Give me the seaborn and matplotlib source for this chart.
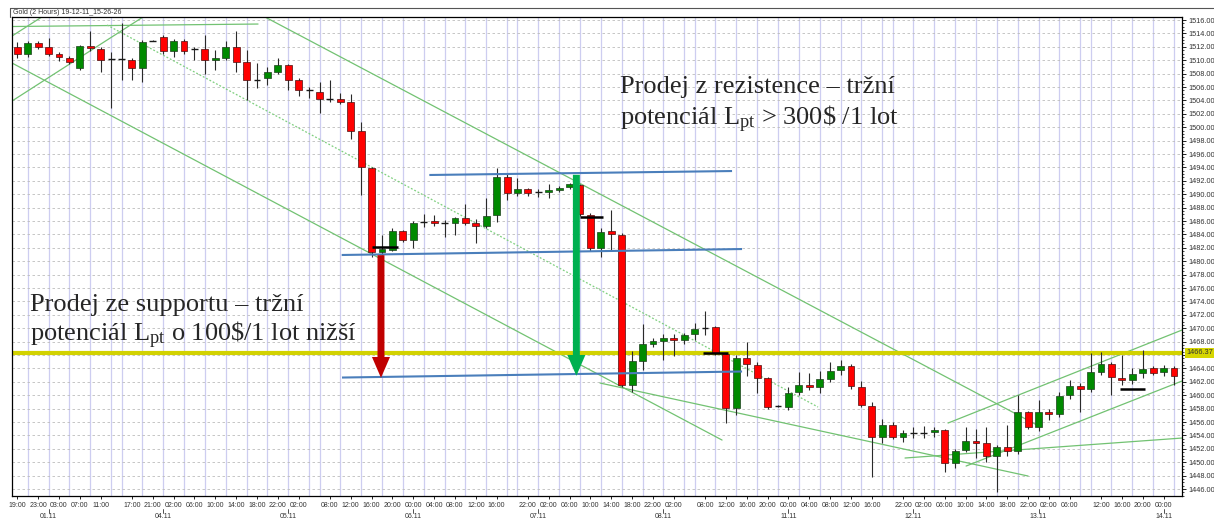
import numpy as np
import pandas as pd
import matplotlib
matplotlib.use("Agg")
import matplotlib.pyplot as plt
import matplotlib.transforms as mtransforms
from matplotlib.lines import Line2D
import seaborn as sns

# ---------------- data (2-hour gold candles) ----------------
opens = [1512.0, 1510.9, 1512.6, 1511.9, 1510.9, 1510.4, 1508.9, 1512.1, 1511.6, 1510.2,
         1510.2, 1510.1, 1508.9, 1512.9, 1513.5, 1511.4, 1512.9, 1511.6, 1511.6, 1510.0,
         1510.4, 1511.9, 1509.8, 1507.1, 1507.3, 1508.3, 1509.3, 1507.0, 1505.5, 1505.2,
         1504.2, 1504.2, 1503.7, 1499.4, 1493.9, 1481.4, 1481.7, 1484.5, 1483.1, 1485.9,
         1486.0, 1485.7, 1485.7, 1486.4, 1485.7, 1485.3, 1486.9, 1492.5, 1490.2, 1490.8,
         1490.3, 1490.3, 1490.6, 1491.1, 1491.4, 1486.9, 1481.9, 1484.5, 1483.9, 1461.5,
         1465.1, 1467.7, 1468.1, 1468.6, 1468.2, 1469.1, 1470.1, 1470.2, 1466.1, 1458.1,
         1465.5, 1464.5, 1462.5, 1458.4, 1458.2, 1460.5, 1461.5, 1461.3, 1462.4, 1463.7,
         1464.3, 1461.3, 1458.4, 1453.7, 1455.6, 1453.8, 1454.3, 1454.4, 1454.5, 1454.8,
         1449.9, 1451.8, 1453.2, 1452.9, 1450.9, 1452.2, 1451.7, 1457.5, 1455.2, 1457.5,
         1457.2, 1460.0, 1461.4, 1460.9, 1463.5, 1464.6, 1462.6, 1462.2, 1463.3, 1464.0,
         1463.4, 1464.1]
highs = [1512.7, 1512.8, 1512.9, 1513.3, 1511.2, 1510.7, 1512.3, 1514.4, 1512.0, 1511.3,
         1515.5, 1510.3, 1513.0, 1513.0, 1513.7, 1513.1, 1513.1, 1512.0, 1513.7, 1511.5,
         1512.8, 1514.4, 1511.5, 1509.6, 1509.0, 1510.3, 1509.5, 1507.3, 1506.0, 1506.8,
         1507.0, 1505.1, 1504.9, 1500.8, 1494.0, 1483.9, 1485.0, 1484.7, 1486.0, 1487.0,
         1486.9, 1486.1, 1486.6, 1488.6, 1486.3, 1489.4, 1493.9, 1493.0, 1492.4, 1491.0,
         1490.8, 1491.6, 1491.2, 1491.7, 1491.6, 1487.2, 1485.0, 1487.7, 1484.2, 1466.6,
         1470.7, 1468.6, 1469.2, 1469.2, 1469.3, 1470.8, 1472.6, 1470.4, 1466.3, 1466.0,
         1468.0, 1465.0, 1462.7, 1458.6, 1461.3, 1463.4, 1463.3, 1463.6, 1464.9, 1465.3,
         1464.6, 1462.1, 1459.0, 1456.5, 1456.0, 1454.8, 1455.2, 1455.4, 1455.2, 1455.0,
         1452.0, 1455.2, 1455.0, 1455.2, 1452.5, 1455.6, 1460.0, 1457.7, 1459.3, 1457.9,
         1460.5, 1462.3, 1461.8, 1466.3, 1466.4, 1465.0, 1466.0, 1464.0, 1466.7, 1464.3,
         1464.5, 1464.3]
lows = [1510.3, 1510.5, 1511.6, 1510.7, 1509.9, 1509.4, 1508.5, 1511.4, 1508.3, 1502.9,
        1507.0, 1507.0, 1506.8, 1512.8, 1510.9, 1510.5, 1511.0, 1510.0, 1508.0, 1508.5,
        1510.0, 1508.3, 1504.1, 1505.9, 1506.3, 1508.0, 1505.6, 1504.6, 1504.3, 1502.1,
        1503.7, 1503.4, 1498.2, 1489.9, 1480.7, 1481.0, 1481.5, 1482.8, 1482.0, 1485.1,
        1485.3, 1483.6, 1483.9, 1485.4, 1482.7, 1485.0, 1485.9, 1489.1, 1489.7, 1489.8,
        1489.6, 1489.5, 1490.4, 1490.8, 1486.7, 1481.6, 1480.7, 1481.7, 1461.3, 1460.5,
        1463.8, 1467.2, 1465.3, 1465.9, 1467.7, 1468.2, 1469.0, 1466.0, 1455.8, 1457.0,
        1462.8, 1460.3, 1458.0, 1458.2, 1457.8, 1460.0, 1460.8, 1460.3, 1461.9, 1463.0,
        1461.0, 1458.3, 1447.8, 1452.9, 1453.4, 1453.0, 1453.6, 1453.6, 1453.8, 1448.6,
        1449.2, 1451.5, 1450.6, 1450.0, 1445.5, 1451.0, 1451.2, 1454.9, 1454.6, 1456.3,
        1456.8, 1459.5, 1457.5, 1460.5, 1463.0, 1460.0, 1461.5, 1461.7, 1462.5, 1463.0,
        1462.9, 1461.5]
closes = [1510.9, 1512.6, 1512.0, 1511.0, 1510.5, 1509.7, 1512.1, 1511.8, 1510.1, 1510.2,
          1510.2, 1508.9, 1512.7, 1512.9, 1511.4, 1512.9, 1511.4, 1511.6, 1510.0, 1510.4,
          1511.9, 1509.8, 1507.0, 1507.1, 1508.3, 1509.3, 1507.0, 1505.6, 1505.5, 1504.2,
          1504.2, 1503.8, 1499.5, 1494.0, 1481.4, 1481.8, 1484.5, 1483.1, 1485.7, 1485.9,
          1485.7, 1485.7, 1486.4, 1485.7, 1485.3, 1486.8, 1492.5, 1490.2, 1490.8, 1490.2,
          1490.3, 1490.6, 1490.9, 1491.5, 1487.0, 1481.9, 1484.4, 1484.1, 1461.5, 1465.1,
          1467.6, 1468.1, 1468.6, 1468.2, 1469.0, 1469.9, 1470.1, 1466.3, 1458.1, 1465.5,
          1464.7, 1462.5, 1458.3, 1458.4, 1460.4, 1461.5, 1461.3, 1462.4, 1463.6, 1464.3,
          1461.4, 1458.5, 1453.7, 1455.6, 1453.7, 1454.4, 1454.3, 1454.4, 1454.8, 1449.9,
          1451.7, 1453.2, 1452.9, 1450.9, 1452.2, 1451.7, 1457.5, 1455.2, 1457.5, 1457.2,
          1459.9, 1461.4, 1460.9, 1463.4, 1464.6, 1462.7, 1462.2, 1463.2, 1463.9, 1463.3,
          1464.1, 1462.9]

time_ticks = [0, 2, 4, 6, 8,
              11, 13, 15, 17, 19, 21, 23, 25, 27,
              30, 32, 34, 36, 38, 40, 42, 44, 46,
              49, 51, 53, 55, 57, 59, 61, 63,
              66, 68, 70, 72, 74, 76, 78, 80, 82,
              85, 87, 89, 91, 93, 95, 97, 99, 101,
              104, 106, 108, 110]
time_labels = ["19:00", "23:00", "03:00", "07:00", "11:00",
               "17:00", "21:00", "02:00", "06:00", "10:00", "14:00", "18:00", "22:00", "02:00",
               "08:00", "12:00", "16:00", "20:00", "00:00", "04:00", "08:00", "12:00", "16:00",
               "22:00", "02:00", "06:00", "10:00", "14:00", "18:00", "22:00", "02:00",
               "08:00", "12:00", "16:00", "20:00", "00:00", "04:00", "08:00", "12:00", "16:00",
               "22:00", "02:00", "06:00", "10:00", "14:00", "18:00", "22:00", "02:00", "06:00",
               "12:00", "16:00", "20:00", "00:00"]
date_ticks = [3, 14, 26, 38, 50, 62, 74, 86, 98, 110]
date_labels = ["01.11", "04.11", "05.11", "06.11", "07.11", "08.11", "11.11", "12.11", "13.11", "14.11"]

price_ticks = list(range(1446, 1518, 2))
level_price = 1466.37

# green trend lines (bar index, price)
trend_x = [[-0.51, 23.1], [-0.51, 2.9], [-0.51, 12.06], [-0.51, 67.63], [23.77, 97.86],
           [55.92, 97.0], [89.32, 111.77], [91.05, 111.77], [85.19, 111.77]]
trend_y = [[1515.03, 1515.40], [1513.61, 1517.0], [1503.91, 1516.45], [1509.58, 1453.31],
           [1516.45, 1455.55], [1461.82, 1447.94], [1455.85, 1469.73], [1449.43, 1462.12],
           [1450.63, 1453.61]]
dotted_x = [8.61, 76.84]
dotted_y = [1515.25, 1458.24]

# blue support / resistance lines
blue_x = [[39.54, 68.59], [31.13, 69.55], [31.16, 69.55]]
blue_y = [[1492.87, 1493.46], [1480.93, 1481.82], [1462.64, 1463.54]]

# short black level markers
marker_x0 = [34.0, 54.0, 65.8, 105.8]
marker_x1 = [36.5, 56.2, 68.2, 108.2]
marker_y = [1482.12, 1486.55, 1466.25, 1460.9]

# arrows
arrow_x = [34.9, 53.65]
arrow_from = [1480.9, 1492.9]
arrow_to = [1462.6, 1462.9]
arrow_colors = ["#c00000", "#00b050"]

# ---------------- figure ----------------
sns.set_theme(style="white")
plt.rcParams["font.family"] = ["Liberation Sans", "DejaVu Sans"]
plt.rcParams["mathtext.fontset"] = "custom"
plt.rcParams["mathtext.rm"] = "Liberation Serif"
plt.rcParams["mathtext.it"] = "Liberation Serif:italic"

fig = plt.figure(figsize=(12.14, 5.21), dpi=100)
W, H = 1214.0, 521.0
ax = fig.add_axes([12 / W, 1 - 496 / H, 1170 / W, 479 / H])

n = len(opens)
bars = np.arange(n)
df = pd.DataFrame({"bar": bars, "open": opens, "high": highs, "low": lows, "close": closes})

ax.set_xlim(-0.51, 111.77)
ax.set_ylim(1444.96, 1516.45)

# grid
ax.set_xticks(bars, minor=True)
ax.grid(axis="x", which="minor", color="#cdcdf0", lw=0.9, linestyle="-")
ax.grid(axis="y", which="major", color="#bdbdbd", lw=0.6, linestyle=(0, (3, 3)))
ax.set_axisbelow(True)

# trend lines with seaborn
rows = []
for i, (xs, ys) in enumerate(zip(trend_x, trend_y)):
    for xv, yv in zip(xs, ys):
        rows.append({"line": i, "x": xv, "y": yv})
tdf = pd.DataFrame(rows)
sns.lineplot(data=tdf, x="x", y="y", units="line", estimator=None, sort=False,
             color="#72c272", lw=0.9, ax=ax, zorder=1, legend=False)
ax.plot(dotted_x, dotted_y, color="#7fcf7f", lw=0.9, linestyle=(0, (1.5, 1.5)), zorder=1)

# yellow level
ax.axhline(level_price, color="#d2d200", lw=3.0, zorder=2)

# candles
up = df["close"] > df["open"]
dn = df["close"] < df["open"]
eq = ~(up | dn)
ax.vlines(df["bar"], df["low"], df["high"], color="#2a2a2a", lw=0.8, zorder=3)
body_w = 0.66
for mask, fc, ec in [(up, "#008a00", "#1d3d1d"), (dn, "#ff0000", "#4a1010")]:
    sub = df[mask]
    ax.bar(sub["bar"], (sub["close"] - sub["open"]).abs(),
           bottom=np.minimum(sub["open"], sub["close"]), width=body_w,
           color=fc, edgecolor=ec, lw=0.5, zorder=4)
sub = df[eq]
ax.hlines(sub["open"], sub["bar"] - body_w / 2, sub["bar"] + body_w / 2,
          color="#1a1a1a", lw=1.0, zorder=4)

# blue lines
for xs, ys in zip(blue_x, blue_y):
    ax.plot(xs, ys, color="#4a7ebb", lw=1.5, zorder=5, solid_capstyle="butt")

# black markers
ax.hlines(marker_y, marker_x0, marker_x1, color="black", lw=1.8, zorder=6)

# arrows
for xv, y0, y1, col in zip(arrow_x, arrow_from, arrow_to, arrow_colors):
    ax.annotate("", xy=(xv, y1), xytext=(xv, y0),
                arrowprops=dict(arrowstyle="simple,head_length=1.5,head_width=1.3,tail_width=0.5",
                                fc=col, ec=col, lw=0, shrinkA=0, shrinkB=0,
                                mutation_scale=10), zorder=7)

# annotation texts
serif = ["Liberation Serif", "DejaVu Serif"]
tx1 = (620 - 12) / 1170
tx2 = (30 - 12) / 1170
ax.text(tx1, (496 - 93) / 479, "Prodej z rezistence – tržní", transform=ax.transAxes,
        fontsize=19, family=serif, va="baseline", ha="left", zorder=8)
ax.text(tx1, (496 - 125) / 479, r"potenciál $\mathrm{L}_{\mathrm{pt}}$ > 300\$ /1 lot",
        transform=ax.transAxes, fontsize=19, family=serif, va="baseline", ha="left", zorder=8)
ax.text(tx2, (496 - 311) / 479, "Prodej ze supportu – tržní", transform=ax.transAxes,
        fontsize=19, family=serif, va="baseline", ha="left", zorder=8)
ax.text(tx2, (496 - 341) / 479, r"potenciál $\mathrm{L}_{\mathrm{pt}}$ o 100\$/1 lot nižší",
        transform=ax.transAxes, fontsize=19, family=serif, va="baseline", ha="left", zorder=8)

# axes styling
for s in ax.spines.values():
    s.set_color("black")
    s.set_linewidth(0.9)
ax.yaxis.tick_right()
ax.set_yticks(price_ticks)
ax.set_yticklabels(["" if p == 1466 else f"{p:.2f}" for p in price_ticks])
ax.set_yticks(np.arange(1445.0, 1516.5, 0.5), minor=True)
ax.tick_params(axis="y", which="major", length=3, width=0.6, pad=1.5, labelsize=5.3,
               labelcolor="#333333", color="black", right=True, left=False)
ax.tick_params(axis="y", which="minor", length=1.5, width=0.5, color="black", right=True, left=False)

ax.set_xticks(time_ticks)
ax.set_xticklabels(time_labels)
ax.tick_params(axis="x", which="major", length=2.5, width=0.6, pad=2, labelsize=5.0,
               labelcolor="#333333", color="black", bottom=True)
ax.tick_params(axis="x", which="minor", length=0)
ax.set_xlabel("")
ax.set_ylabel("")

# price label for the level
blend_y = mtransforms.blended_transform_factory(ax.transAxes, ax.transData)
ax.text(1.004, level_price, f"{level_price:.2f}", transform=blend_y, fontsize=5.3,
        color="#333333", va="center", ha="left", clip_on=False,
        bbox=dict(boxstyle="square,pad=0.2", fc="#d6d600", ec="none"))

# date row
blend_x = mtransforms.blended_transform_factory(ax.transData, ax.transAxes)
for xv, lab in zip(date_ticks, date_labels):
    ax.text(xv, -20 / 479, lab, transform=blend_x, fontsize=5.0, color="#333333",
            ha="center", va="center", clip_on=False)
    ax.add_line(Line2D([xv, xv], [-13 / 479, -16.5 / 479], transform=blend_x,
                       color="#333333", lw=0.6, clip_on=False))

# chart title frame
fig.add_artist(Line2D([10 / W, 1.0], [1 - 8 / H, 1 - 8 / H], transform=fig.transFigure,
                      color="#555555", lw=0.8))
fig.add_artist(Line2D([10 / W, 10 / W], [1 - 8 / H, 1 - 17 / H], transform=fig.transFigure,
                      color="#555555", lw=0.8))
fig.text(13 / W, 1 - 12.5 / H, "Gold (2 Hours) 19-12-11_15-26-26", fontsize=5.0,
         color="#333333", va="center", ha="left")

fig.savefig("out.png", dpi=100)
